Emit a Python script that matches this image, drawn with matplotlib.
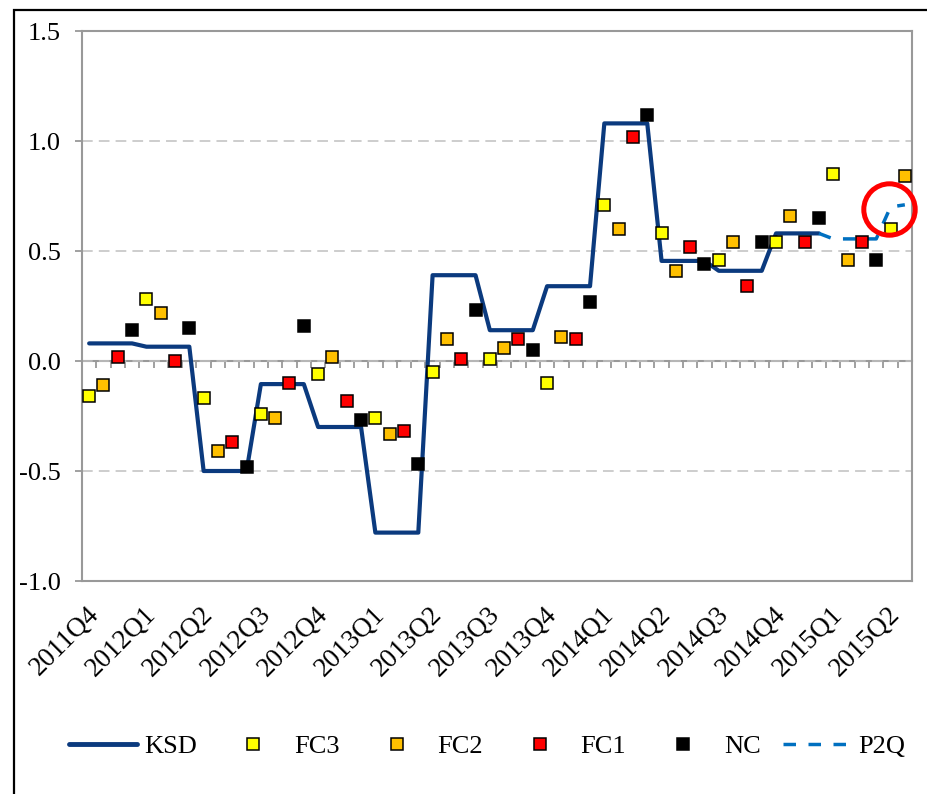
import numpy as np
import matplotlib
matplotlib.use('Agg')
import matplotlib.pyplot as plt
from matplotlib.lines import Line2D
from matplotlib.patches import Rectangle
from matplotlib.transforms import ScaledTranslation

# ---------------- data ----------------
quarters = ['2011Q4', '2012Q1', '2012Q2', '2012Q3', '2012Q4', '2013Q1', '2013Q2',
            '2013Q3', '2013Q4', '2014Q1', '2014Q2', '2014Q3', '2014Q4', '2015Q1', '2015Q2']
ksd = [0.08, 0.065, -0.50, -0.105, -0.30, -0.78, 0.39, 0.14, 0.34, 1.08, 0.455, 0.41, 0.58]
fc3 = [-0.16, 0.28, -0.17, -0.24, -0.06, -0.26, -0.05, 0.01, -0.10, 0.71, 0.58, 0.46, 0.54, 0.85, 0.60]
fc2 = [-0.11, 0.22, -0.41, -0.26, 0.02, -0.33, 0.10, 0.06, 0.11, 0.60, 0.41, 0.54, 0.66, 0.46, 0.84]
fc1 = [0.02, 0.00, -0.37, -0.10, -0.18, -0.32, 0.01, 0.10, 0.10, 1.02, 0.52, 0.34, 0.54, 0.54]
nc = [0.14, 0.15, -0.48, 0.16, -0.27, -0.47, 0.23, 0.05, 0.27, 1.12, 0.44, 0.54, 0.65, 0.46]
# P2Q path continues from the last KSD point
p2q = [0.58, 0.555, 0.555, 0.555, 0.555, 0.70, 0.71]
yticks = [-1.0, -0.5, 0.0, 0.5, 1.0, 1.5]

# ---------------- style ----------------
plt.rcParams['font.family'] = ['Liberation Serif', 'DejaVu Serif']
plt.rcParams['font.size'] = 19
plt.rcParams['axes.unicode_minus'] = False

KSD_C = '#0B3A7E'
P2Q_C = '#0070C0'
GRAY = '#999999'
GRID = '#C0C0C0'
SLOTS = 4

fig = plt.figure(figsize=(9.28, 7.94), dpi=100)
ax = fig.add_axes([82 / 928, 1 - 581 / 794, 830 / 928, 550 / 794])

n_slots = SLOTS * len(quarters) - 2

# KSD step line (constant within each quarter)
x_ksd = np.arange(len(ksd) * SLOTS)
y_ksd = np.repeat(ksd, SLOTS)
ax.plot(x_ksd, y_ksd, color=KSD_C, lw=3, solid_capstyle='round', zorder=3)

# P2Q dashed
x_p2q = np.arange(len(p2q)) + (len(ksd) * SLOTS - 1)
ax.plot(x_p2q, p2q, color=P2Q_C, lw=2.5, ls=(0, (3.6, 3.6)), zorder=3)

series = [('FC3', fc3, 0, '#FFFF00'), ('FC2', fc2, 1, '#FFC000'),
          ('FC1', fc1, 2, '#FF0000'), ('NC', nc, 3, '#000000')]
for name, vals, off, col in series:
    xs = np.arange(len(vals)) * SLOTS + off
    ax.plot(xs, vals, ls='none', marker='s', ms=9, mfc=col, mec='black',
            mew=1.1, zorder=4)

# highlight circle (annotation)
ax.plot([55.87], [0.69], marker='o', ms=37, mfc='none', mec='#FF0000',
        mew=3.6, zorder=5, clip_on=False)

ax.set_xlim(-0.5, n_slots - 0.5)
ax.set_ylim(yticks[0], yticks[-1])

ax.set_yticks(yticks, [f'{v:.1f}' for v in yticks])
ax.tick_params(axis='y', direction='out', length=5, width=1.3, color=GRAY, pad=10.5)
ax.yaxis.grid(True, color=GRID, lw=1.1, ls=(0, (7, 4)))
ax.set_axisbelow(True)

ax.set_xticks(np.arange(len(quarters)) * SLOTS, quarters)
ax.tick_params(axis='x', length=0, pad=15, labelsize=19.5)
for lab in ax.get_xticklabels():
    lab.set_rotation(45)
    lab.set_ha('right')
    lab.set_va('top')
    lab.set_rotation_mode('anchor')
    lab.set_transform(lab.get_transform() + ScaledTranslation(-3 / 100, 0, fig.dpi_scale_trans))

for sp in ax.spines.values():
    sp.set_color(GRAY)
    sp.set_linewidth(1.5)

# category axis crossing at zero with tick marks between categories
zero_pos = (0 - yticks[0]) / (yticks[-1] - yticks[0])
sec = ax.secondary_xaxis(zero_pos)
sec.set_xticks(np.arange(-0.5, n_slots, 1))
sec.tick_params(axis='x', direction='out', length=5, width=1.3, color=GRAY,
                labelbottom=False, labeltop=False)
for sp in sec.spines.values():
    sp.set_color(GRAY)
    sp.set_linewidth(1.5)

# legend
handles = [Line2D([], [], color=KSD_C, lw=3.5, solid_capstyle='round')]
for name, vals, off, col in series:
    handles.append(Line2D([], [], ls='none', marker='s', ms=9, mfc=col,
                          mec='black', mew=1.1))
handles.append(Line2D([], [], color=P2Q_C, lw=2.5, ls=(0, (3.6, 3.6))))
labels = ['KSD'] + [s[0] for s in series] + ['P2Q']
fig.legend(handles, labels, loc='center', bbox_to_anchor=(487 / 928, 1 - 746 / 794),
           ncol=6, frameon=False, handlelength=2.6, handletextpad=0.25,
           columnspacing=0.85, fontsize=19)

# outer frame
fig.add_artist(Rectangle((14 / 928, -0.1), 2.0, 1.1 - 10 / 794, transform=fig.transFigure,
                         fill=False, ec='black', lw=1.6))

fig.savefig('out.png', dpi=100)
